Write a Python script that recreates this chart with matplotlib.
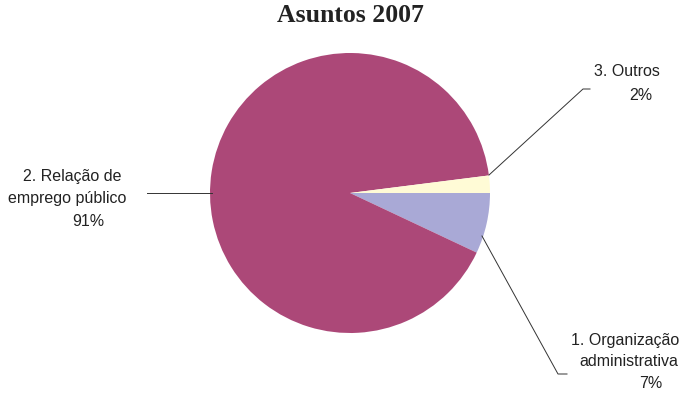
import numpy as np
import matplotlib.pyplot as plt

# --- data ---
labels = ["1. Organização\nadministrativa", "2. Relação de\nemprego público", "3. Outros"]
values = [7, 91, 2]
colors = ["#A9A9D6", "#AC4878", "#FFFBD6"]
title = "Asuntos 2007"

# --- figure in pixel-like coordinates ---
W, H = 682, 393
fig = plt.figure(figsize=(W / 100, H / 100), dpi=100)
ax = fig.add_axes([0, 0, 1, 1])

cx, cy, r = 350, H - 193, 140
ax.pie(values, colors=colors, startangle=0, counterclock=False,
       center=(cx, cy), radius=r, wedgeprops=dict(linewidth=0))
ax.set_xlim(0, W)
ax.set_ylim(0, H)
ax.set_aspect("equal")
ax.axis("off")

font = dict(family=["Liberation Sans", "DejaVu Sans"], fontsize=11.5, color="#222222")
lw = 0.7
lc = "#333333"

# 2. Relação de emprego público (left)
ax.plot([147, 212], [H - 193, H - 193], color=lc, lw=lw)
ax.text(72, H - 177, "2. Relação de", ha="center", va="center", **font)
ax.text(67, H - 199, "emprego público", ha="center", va="center", **font)
ax.text(88, H - 222, f"{values[1]}%", ha="center", va="center", **font)

# 3. Outros (top right)
ax.plot([489, 583, 590], [H - 175, H - 89, H - 89], color=lc, lw=lw)
ax.text(627, H - 71, "3. Outros", ha="center", va="center", **font)
ax.text(641, H - 96, f"{values[2]}%", ha="center", va="center", **font)

# 1. Organização administrativa (bottom right)
ax.plot([482, 558, 567], [H - 236, H - 374, H - 374], color=lc, lw=lw)
ax.text(625, H - 340, "1. Organização", ha="center", va="center", **font)
ax.text(629, H - 362, "administrativa", ha="center", va="center", **font)
ax.text(651, H - 384, f"{values[0]}%", ha="center", va="center", **font)

ax.text(cx, H - 16, title, ha="center", va="center", fontsize=18.5, fontweight="bold",
        family=["Liberation Serif", "DejaVu Serif"], color="#222222")

fig.savefig("out.png", dpi=100)
